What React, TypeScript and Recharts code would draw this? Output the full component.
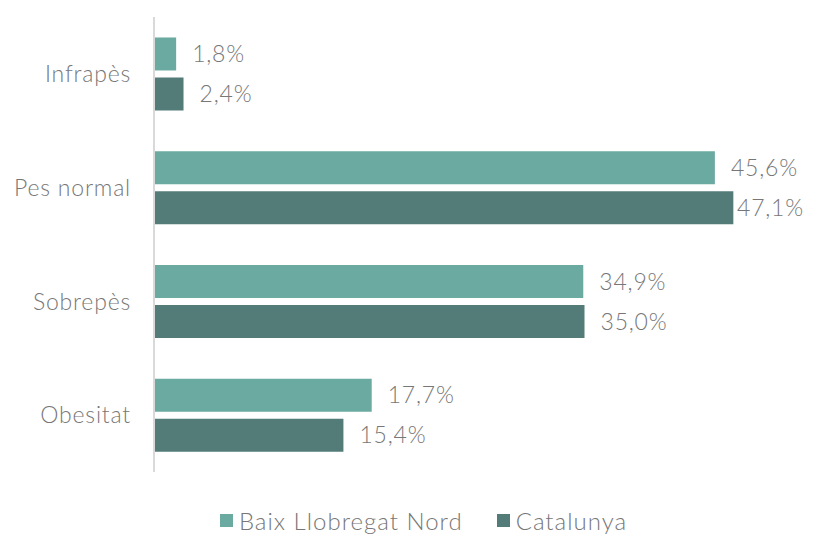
import { Bar, BarChart, LabelList, Legend, XAxis, YAxis } from "recharts"

const categories = ["Infrapès", "Pes normal", "Sobrepès", "Obesitat"]
const baixLlobregatNord = [1.8, 45.6, 34.9, 17.7]
const catalunya = [2.4, 47.1, 35.0, 15.4]
const seriesNames = ["Baix Llobregat Nord", "Catalunya"]
const colors = ["#6BAAA0", "#537B78"]

const data = categories.map((name, i) => ({
    name,
    baix: baixLlobregatNord[i],
    cat: catalunya[i],
}))

const FONT = "Lato, 'Open Sans', sans-serif"
const TEXT = "#777777"
const FS = 23
const LS = 0.8

const fmt = (v: number) => v.toFixed(1).replace(".", ",") + "%"

function ValueLabel(props: any) {
    const { x, y, width, height, value } = props
    // keep the widest label inside the picture, as the original does
    const lx = Math.min(x + width + 16, 819 - 82)
    return (
        <text
            x={lx}
            y={y + height / 2}
            dy="0.35em"
            fill={TEXT}
            fontSize={FS}
            fontWeight={300}
            fontFamily={FONT}
            letterSpacing={LS}
        >
            {fmt(value)}
        </text>
    )
}

function LegendContent() {
    return (
        <div style={{ display: "flex", justifyContent: "center", gap: 34, fontFamily: FONT, fontWeight: 300, fontSize: 24, letterSpacing: 1, color: TEXT, paddingLeft: 78, paddingTop: 34 }}>
            {seriesNames.map((s, i) => (
                <div key={s} style={{ display: "flex", alignItems: "center" }}>
                    <span style={{ display: "inline-block", width: 13, height: 13, background: colors[i], marginRight: 6 }} />
                    <span>{s}</span>
                </div>
            ))}
        </div>
    )
}

export default function App() {
    return (
        <div style={{ position: "absolute", left: 0, top: 0, background: "#fff" }}>
            <BarChart
                width={819}
                height={537}
                data={data}
                layout="vertical"
                margin={{ top: 17, right: 50, left: 0, bottom: 10 }}
                barCategoryGap="18%"
                barGap={7}
            >
                <XAxis type="number" domain={[0, 50]} hide />
                <YAxis
                    type="category"
                    dataKey="name"
                    width={154}
                    tickLine={false}
                    axisLine={{ stroke: "#d9d9d9", strokeWidth: 2 }}
                    tickMargin={17}
                    tick={{ fill: TEXT, fontSize: FS, fontWeight: 300, fontFamily: FONT, letterSpacing: LS }}
                />
                <Legend content={<LegendContent />} verticalAlign="bottom" height={55} />
                <Bar dataKey="baix" name={seriesNames[0]} fill={colors[0]} isAnimationActive={false}>
                    <LabelList dataKey="baix" content={<ValueLabel />} />
                </Bar>
                <Bar dataKey="cat" name={seriesNames[1]} fill={colors[1]} isAnimationActive={false}>
                    <LabelList dataKey="cat" content={<ValueLabel />} />
                </Bar>
            </BarChart>
        </div>
    )
}
